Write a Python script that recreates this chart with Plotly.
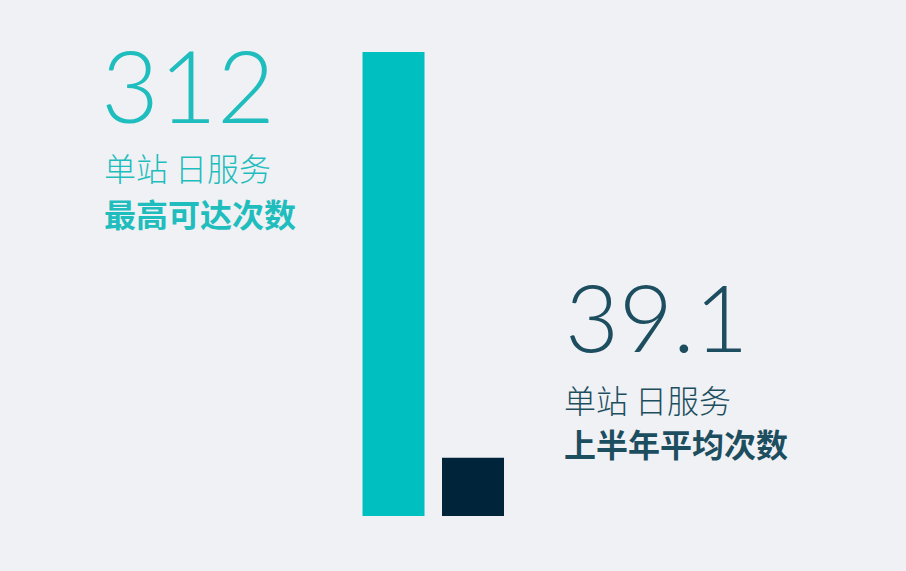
import plotly.graph_objects as go

# values
categories = ["最高可达次数", "上半年平均次数"]
values = [312, 39.1]
bar_colors = ["#00bfc0", "#00253a"]

big_numbers = ["312", "39.1"]
line1 = ["单站 日服务", "单站 日服务"]
line2 = ["最高可达次数", "上半年平均次数"]
text_colors = ["#1fbdbd", "#1d4e60"]

W, H = 906, 571
TOP, BOTTOM = 52, 55          # bar top / baseline margins in px
PLOT_H = H - TOP - BOTTOM


def py(pix):
    # pixel row -> paper y
    return (H - BOTTOM - pix) / PLOT_H


fig = go.Figure()
fig.add_trace(go.Bar(
    x=[0, 1],
    y=values,
    width=0.78,
    marker=dict(color=bar_colors, line=dict(width=0)),
    hoverinfo="skip",
))

# text blocks: number x, number size, number centre, text x, line1 centre, line2 centre
blocks = [(99, 100, 84, 102, 167, 212.5), (563, 93, 316, 562, 399, 443)]
for i, (nx, nsize, ny, tx, l1y, l2y) in enumerate(blocks):
    fig.add_annotation(x=nx / W, y=py(ny), xref="paper", yref="paper",
                       text=big_numbers[i], showarrow=False,
                       xanchor="left", yanchor="middle",
                       font=dict(family="Lato", size=nsize, weight=300, color=text_colors[i]))
    fig.add_annotation(x=tx / W, y=py(l1y), xref="paper", yref="paper",
                       text=line1[i], showarrow=False,
                       xanchor="left", yanchor="middle",
                       font=dict(family="Noto Sans CJK SC", size=32, weight=300, color=text_colors[i]))
    fig.add_annotation(x=tx / W, y=py(l2y), xref="paper", yref="paper",
                       text="<b>" + line2[i] + "</b>", showarrow=False,
                       xanchor="left", yanchor="middle",
                       font=dict(family="Noto Sans CJK SC", size=32, color=text_colors[i]))

# x range chosen so bar centres sit at 393.5px and 473px
step = 79.5
fig.update_xaxes(range=[-393.5 / step, 1 + (W - 473) / step], visible=False, fixedrange=True)
fig.update_yaxes(range=[0, max(values)], visible=False, fixedrange=True)

fig.update_layout(
    width=W, height=H,
    margin=dict(l=0, r=0, t=TOP, b=BOTTOM, pad=0),
    paper_bgcolor="#f0f1f4",
    plot_bgcolor="#f0f1f4",
    showlegend=False,
)

# drop the default page margin so the figure fills the window
fig.write_html("out.html", config={"displayModeBar": False},
               post_script="document.body.style.margin='0';document.body.style.background='#f0f1f4';")
